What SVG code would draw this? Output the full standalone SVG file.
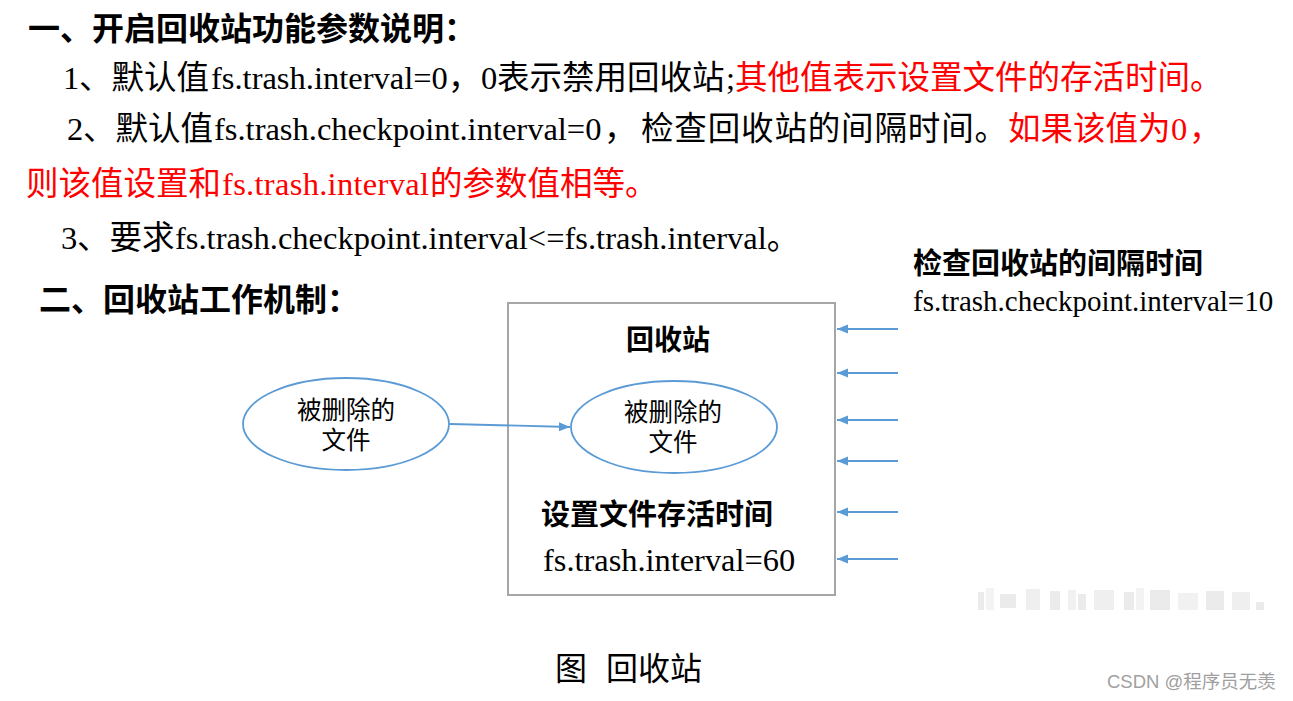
<svg xmlns="http://www.w3.org/2000/svg" width="1293" height="701" viewBox="0 0 1293 701">
<style>
.cj{font-family:"Noto Sans CJK SC","Liberation Sans",sans-serif;font-size:32.5px}
.tn{font-family:"Liberation Serif","Noto Sans CJK SC",serif;font-size:32.5px}
.h{font-family:"Noto Sans CJK SC","Liberation Sans",sans-serif;font-weight:bold}
.red{fill:#ff0000}
.blk{fill:#000}
.el{fill:#fff;stroke:#5b9bd5;stroke-width:1.8}
.lbl{font-family:"Noto Sans CJK SC","Liberation Sans",sans-serif;font-size:24.5px;text-anchor:middle;fill:#000}
.conn{stroke:#5b9bd5;stroke-width:1.8;fill:none}
.wm{fill:#d4d4d4}
</style>
<defs>
<marker id="ah" markerUnits="userSpaceOnUse" markerWidth="12" markerHeight="10" refX="11" refY="5" orient="auto">
<path d="M0,0.5 L11,5 L0,9.5 z" fill="#5b9bd5"/>
</marker>
</defs>
<rect width="1293" height="701" fill="#fff"/>

<g id="text-section1">
<text class="h" x="28" y="40" font-size="32">一、开启回收站功能参数说明：</text>
<text y="89" class="blk"><tspan class="tn" x="63">1</tspan><tspan class="cj" x="79">、默认值</tspan><tspan class="tn" x="211">fs.trash.interval=0</tspan><tspan class="cj" x="448">，</tspan><tspan class="tn" x="481">0</tspan><tspan class="cj" x="497">表示禁用回收站</tspan><tspan class="tn" x="726">;</tspan><tspan class="cj red" x="735">其他值表示设置文件的存活时间。</tspan></text>
<text y="140" class="blk"><tspan class="tn" x="67">2</tspan><tspan class="cj" x="83">、默认值</tspan><tspan class="tn" x="214">fs.trash.checkpoint.interval=0</tspan><tspan class="cj" x="604">，</tspan><tspan class="cj" x="641" textLength="366" lengthAdjust="spacing">检查回收站的间隔时间。</tspan><tspan class="cj red" x="1008">如果该值为</tspan><tspan class="tn red" x="1171">0</tspan><tspan class="cj red" x="1189">，</tspan></text>
<text y="195" class="red"><tspan class="cj" x="26">则该值设置和</tspan><tspan class="tn" x="222" textLength="207" lengthAdjust="spacing">fs.trash.interval</tspan><tspan class="cj" x="430">的参数值相等。</tspan></text>
<text y="249" class="blk"><tspan class="tn" x="61">3</tspan><tspan class="cj" x="77">、要求</tspan><tspan class="tn" x="175">fs.trash.checkpoint.interval&lt;=fs.trash.interval</tspan><tspan class="cj">。</tspan></text>
</g>

<g id="text-section2">
<text class="h" x="39" y="311" font-size="32">二、回收站工作机制：</text>
</g>

<g id="checkpoint-label">
<text class="h" x="913" y="274" font-size="29">检查回收站的间隔时间</text>
<text x="913" y="311" font-family="Liberation Serif, serif" font-size="29">fs.trash.checkpoint.interval=10</text>
</g>

<g id="trash-box">
<rect x="508" y="303" width="327" height="292" fill="#fff" stroke="#a6a6a6" stroke-width="2"/>
<text class="h" x="668" y="350" font-size="28" text-anchor="middle">回收站</text>
<text class="h" x="541" y="525" font-size="29">设置文件存活时间</text>
<text x="543" y="571" font-family="Liberation Serif, serif" font-size="32.4">fs.trash.interval=60</text>
</g>

<g id="deleted-file-outside">
<ellipse class="el" cx="346" cy="424" rx="103" ry="46"/>
<text class="lbl" x="346" y="419">被删除的</text>
<text class="lbl" x="346" y="449">文件</text>
</g>

<g id="deleted-file-inside">
<ellipse class="el" cx="674" cy="427" rx="103" ry="46"/>
<text class="lbl" x="673" y="421">被删除的</text>
<text class="lbl" x="673" y="451">文件</text>
</g>

<g id="connectors">
<line class="conn" x1="450" y1="424" x2="570" y2="427" marker-end="url(#ah)"/>
<line class="conn" x1="898" y1="329" x2="837" y2="329" marker-end="url(#ah)"/>
<line class="conn" x1="898" y1="373" x2="837" y2="373" marker-end="url(#ah)"/>
<line class="conn" x1="898" y1="420" x2="837" y2="420" marker-end="url(#ah)"/>
<line class="conn" x1="898" y1="461" x2="837" y2="461" marker-end="url(#ah)"/>
<line class="conn" x1="898" y1="512" x2="837" y2="512" marker-end="url(#ah)"/>
<line class="conn" x1="898" y1="559" x2="837" y2="559" marker-end="url(#ah)"/>
</g>

<g id="blurred-mark" opacity="0.45">
<rect class="wm" x="978" y="592" width="6" height="18"/>
<rect class="wm" x="986" y="588" width="8" height="22" opacity="0.6"/>
<rect class="wm" x="1000" y="594" width="16" height="14"/>
<rect class="wm" x="1026" y="589" width="14" height="21" opacity="0.8"/>
<rect class="wm" x="1050" y="591" width="10" height="19"/>
<rect class="wm" x="1068" y="590" width="8" height="20" opacity="0.7"/>
<rect class="wm" x="1078" y="594" width="8" height="16"/>
<rect class="wm" x="1094" y="590" width="20" height="20" opacity="0.8"/>
<rect class="wm" x="1124" y="592" width="10" height="18"/>
<rect class="wm" x="1136" y="588" width="8" height="22" opacity="0.6"/>
<rect class="wm" x="1150" y="590" width="20" height="20"/>
<rect class="wm" x="1178" y="593" width="20" height="17" opacity="0.7"/>
<rect class="wm" x="1206" y="591" width="18" height="19"/>
<rect class="wm" x="1232" y="592" width="18" height="18" opacity="0.8"/>
<rect class="wm" x="1256" y="602" width="8" height="8"/>
</g>

<g id="caption">
<text x="555" y="680" font-family="Noto Sans CJK SC, sans-serif" font-size="32">图</text>
<text x="606" y="680" font-family="Noto Sans CJK SC, sans-serif" font-size="32">回收站</text>
</g>

<g id="watermark">
<text x="1107" y="688" font-family="Liberation Sans, Noto Sans CJK SC, sans-serif" font-size="18.5" fill="#a0a0a0">CSDN @程序员无羡</text>
</g>
</svg>
